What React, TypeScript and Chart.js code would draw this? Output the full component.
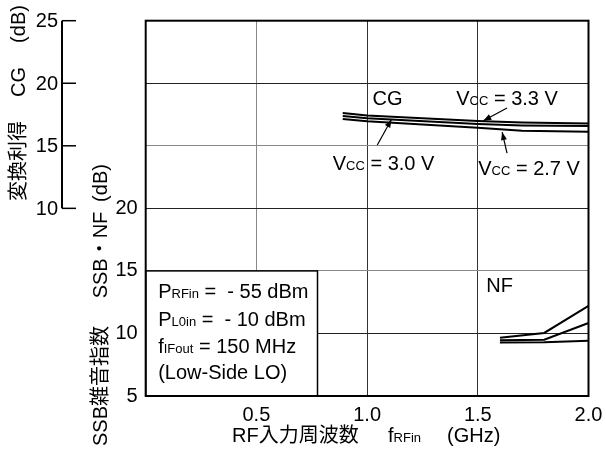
import { useEffect, useRef } from 'react';
import { Chart, registerables } from 'chart.js';

Chart.register(...registerables);

const FONT = '"Liberation Sans", Arial, "Noto Sans CJK JP", sans-serif';

// ---- axis definitions ----
const xTickValues = [0.5, 1.0, 1.5, 2.0]; // GHz
const nfTickValues = [5, 10, 15, 20]; // dB (SSB NF, lower half)
const cgTickValues = [10, 15, 20, 25]; // dB (conversion gain, upper half)

// ---- conversion gain curves ----
const cgFreq = [0.89, 1.0, 1.5, 1.7, 2.0];
const cgVcc33 = [17.62, 17.42, 16.98, 16.86, 16.79];
const cgVcc30 = [17.38, 17.2, 16.74, 16.63, 16.58];
const cgVcc27 = [17.14, 16.96, 16.44, 16.2, 16.12];

// ---- SSB noise figure curves ----
const nfFreq = [1.6, 1.8, 2.0];
const nfCurveA = [9.65, 10.04, 12.2];
const nfCurveB = [9.45, 9.5, 10.84];
const nfCurveC = [9.28, 9.3, 9.42];

type Part = [string, number];

function rich(ctx: CanvasRenderingContext2D, parts: Part[], x: number, y: number, align: 'left' | 'center' | 'right' = 'left') {
  let w = 0;
  for (const [t, s] of parts) {
    ctx.font = `${s}px ${FONT}`;
    w += ctx.measureText(t).width;
  }
  let cx = align === 'left' ? x : align === 'center' ? x - w / 2 : x - w;
  ctx.textAlign = 'left';
  ctx.textBaseline = 'alphabetic';
  for (const [t, s] of parts) {
    ctx.font = `${s}px ${FONT}`;
    ctx.fillText(t, cx, y);
    cx += ctx.measureText(t).width;
  }
}

function arrow(ctx: CanvasRenderingContext2D, x1: number, y1: number, x2: number, y2: number) {
  ctx.beginPath();
  ctx.moveTo(x1, y1);
  ctx.lineTo(x2, y2);
  ctx.lineWidth = 1.2;
  ctx.stroke();
  const ang = Math.atan2(y2 - y1, x2 - x1);
  const L = 8, W = 3;
  ctx.beginPath();
  ctx.moveTo(x2, y2);
  ctx.lineTo(x2 - L * Math.cos(ang) + W * Math.sin(ang), y2 - L * Math.sin(ang) - W * Math.cos(ang));
  ctx.lineTo(x2 - L * Math.cos(ang) - W * Math.sin(ang), y2 - L * Math.sin(ang) + W * Math.cos(ang));
  ctx.closePath();
  ctx.fill();
}

const M = 20; // main font size
const S = 13; // subscript size

const overlay = {
  id: 'overlay',
  afterDatasetsDraw(chart: any) {
    const { ctx, chartArea: a, scales } = chart;
    const xs = scales.x, yN = scales.y, yC = scales.yCG;
    const px = (v: number) => xs.getPixelForValue(v);
    const pn = (v: number) => yN.getPixelForValue(v);
    const pc = (v: number) => yC.getPixelForValue(v);
    ctx.save();
    ctx.fillStyle = '#000';
    ctx.strokeStyle = '#000';

    // condition box
    const bx1 = px(0), bx2 = px(0.776), by1 = pn(15), by2 = pn(5);
    ctx.fillStyle = '#fff';
    ctx.fillRect(bx1, by1, bx2 - bx1, by2 - by1);
    ctx.lineWidth = 1.5;
    ctx.strokeRect(bx1, by1, bx2 - bx1, by2 - by1);
    ctx.fillStyle = '#000';
    const tx = bx1 + 12.5;
    rich(ctx, [['P', M], ['RFin', S], [' =  - 55 dBm', M]], tx, by1 + 27);
    rich(ctx, [['P', M], ['L0in', S], [' =  - 10 dBm', M]], tx, by1 + 55);
    rich(ctx, [['f', M], ['IFout', S], [' = 150 MHz', M]], tx, by1 + 82);
    rich(ctx, [['(Low-Side LO)', M]], tx, by1 + 108);

    // frame
    ctx.lineWidth = 2;
    ctx.strokeRect(a.left, a.top, a.right - a.left, a.bottom - a.top);

    // CG axis (separate, left)
    const axX = 62;
    ctx.lineWidth = 2;
    ctx.beginPath();
    ctx.moveTo(axX, pc(25));
    ctx.lineTo(axX, pc(10));
    ctx.stroke();
    ctx.lineWidth = 1.5;
    ctx.font = `${M}px ${FONT}`;
    for (const v of cgTickValues) {
      const y = pc(v);
      ctx.beginPath();
      ctx.moveTo(axX, y);
      ctx.lineTo(axX + 14, y);
      ctx.stroke();
      ctx.textAlign = 'right';
      ctx.textBaseline = 'middle';
      ctx.fillText(String(v), axX - 4, y + 1);
    }

    // CG axis title (rotated)
    ctx.save();
    ctx.translate(19, 0);
    ctx.rotate(-Math.PI / 2);
    ctx.font = `${M}px ${FONT}`;
    ctx.textBaseline = 'middle';
    ctx.textAlign = 'center';
    ctx.fillText('変換利得', -161, 0);
    ctx.fillText('CG', -82, 0);
    ctx.fillText('(dB)', -24, 0);
    ctx.restore();

    // NF axis title (rotated)
    ctx.save();
    ctx.translate(101, 0);
    ctx.rotate(-Math.PI / 2);
    ctx.font = `${M}px ${FONT}`;
    ctx.textBaseline = 'middle';
    ctx.textAlign = 'center';
    ctx.fillText('SSB雑音指数', -386, 0);
    ctx.fillText('SSB・NF', -255, 0);
    ctx.fillText('(dB)', -183, 0);
    ctx.restore();

    // x axis title
    rich(ctx, [['RF入力周波数', M]], 232, 442);
    rich(ctx, [['f', M], ['RFin', S]], 388, 442);
    rich(ctx, [['(GHz)', M]], 447, 442);

    // curve labels
    rich(ctx, [['CG', M]], px(1.092), pc(18.26), 'center');
    rich(ctx, [['V', M], ['CC', S], [' = 3.3 V', M]], px(1.632), pc(18.26), 'center');
    rich(ctx, [['V', M], ['CC', S], [' = 3.0 V', M]], px(0.845), pc(13.06), 'left');
    rich(ctx, [['V', M], ['CC', S], [' = 2.7 V', M]], px(1.502), pc(12.66), 'left');
    rich(ctx, [['NF', M]], px(1.538), pn(13.3), 'left');

    // arrows
    arrow(ctx, px(1.632), pc(18.02), px(1.525), pc(17.0));
    arrow(ctx, px(1.046), pc(15.06), px(1.11), pc(17.1));
    arrow(ctx, px(1.632), pc(14.42), px(1.61), pc(16.1));

    ctx.restore();
  },
};

const lineDs = (xsArr: number[], ysArr: number[], yAxisID: string) => ({
  data: xsArr.map((x, i) => ({ x, y: ysArr[i] })),
  yAxisID,
  borderColor: '#000',
  borderWidth: 2,
  pointRadius: 0,
  tension: 0,
  fill: false,
});

const gridColor = (v: number) => {
  if (v === 10 || v === 20 || v === 30) return '#222';
  return '#888';
};

const zeroPad = (s: any) => {
  s.paddingLeft = 0;
  s.paddingRight = 0;
  s.paddingTop = 0;
  s.paddingBottom = 0;
};

export default function App() {
  const ref = useRef<HTMLCanvasElement>(null);
  useEffect(() => {
    if (!ref.current) return;
    const chart = new Chart(ref.current, {
      type: 'line',
      data: {
        datasets: [
          lineDs(cgFreq, cgVcc33, 'yCG'),
          lineDs(cgFreq, cgVcc30, 'yCG'),
          lineDs(cgFreq, cgVcc27, 'yCG'),
          lineDs(nfFreq, nfCurveA, 'y'),
          lineDs(nfFreq, nfCurveB, 'y'),
          lineDs(nfFreq, nfCurveC, 'y'),
        ] as any,
      },
      options: {
        responsive: false,
        animation: false,
        devicePixelRatio: 1,
        layout: { padding: { top: 20.7, right: 17.5, left: 0, bottom: 0 } },
        plugins: { legend: { display: false }, tooltip: { enabled: false } },
        scales: {
          x: {
            type: 'linear',
            min: 0,
            max: 2.0,
            afterBuildTicks: (s: any) => {
              s.ticks = [0, ...xTickValues].map((v) => ({ value: v }));
            },
            ticks: {
              autoSkip: false,
              maxRotation: 0,
              color: '#000',
              font: { size: M, family: FONT },
              padding: 7,
              callback: (v: any) => (xTickValues.includes(Number(v)) ? Number(v).toFixed(1) : ''),
            },
            grid: {
              drawTicks: false,
              color: (c: any) => (c.tick && c.tick.value === 0.5 ? '#888' : '#333'),
              lineWidth: 1,
            },
            border: { display: false },
            afterFit: (s: any) => {
              s.height = 72;
              zeroPad(s);
            },
          },
          y: {
            type: 'linear',
            min: 5,
            max: 35,
            afterBuildTicks: (s: any) => {
              s.ticks = [5, 10, 15, 20, 25, 30, 35].map((v) => ({ value: v }));
            },
            ticks: {
              autoSkip: false,
              color: '#000',
              font: { size: M, family: FONT },
              padding: 8,
              callback: (v: any) => (nfTickValues.includes(Number(v)) ? String(v) : ''),
            },
            grid: {
              drawTicks: false,
              color: (c: any) => gridColor(c.tick ? c.tick.value : 0),
              lineWidth: 1,
            },
            border: { display: false },
            afterFit: (s: any) => {
              s.width = 145.7;
              zeroPad(s);
            },
          },
          yCG: {
            type: 'linear',
            min: -5,
            max: 25,
            display: false,
          },
        },
      } as any,
      plugins: [overlay],
    });
    return () => chart.destroy();
  }, []);
  return (
    <div style={{ position: 'fixed', left: 0, top: 0, width: 606, height: 468, background: '#fff' }}>
      <canvas ref={ref} width={606} height={468} />
    </div>
  );
}
